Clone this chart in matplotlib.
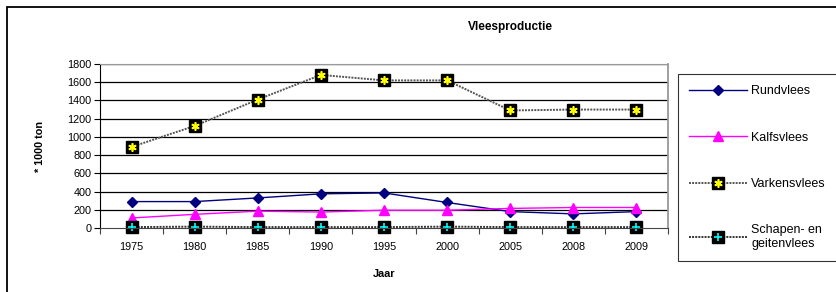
import numpy as np
import matplotlib.pyplot as plt
from matplotlib.lines import Line2D
from matplotlib.legend_handler import HandlerTuple
from matplotlib.patches import Rectangle

plt.rcParams['font.family'] = ['Liberation Sans', 'DejaVu Sans']

years = ['1975', '1980', '1985', '1990', '1995', '2000', '2005', '2008', '2009']
rundvlees = [290, 290, 330, 375, 385, 280, 180, 155, 180]
kalfsvlees = [110, 150, 185, 175, 195, 195, 215, 225, 225]
varkensvlees = [890, 1120, 1410, 1680, 1620, 1620, 1290, 1300, 1300]
schapen = [10, 15, 10, 10, 10, 15, 10, 10, 10]
labels = ['Rundvlees', 'Kalfsvlees', 'Varkensvlees', 'Schapen- en\ngeitenvlees']

W, H = 837, 292
fig = plt.figure(figsize=(W / 100, H / 100), dpi=100)
ax = fig.add_axes([100 / W, 1 - 228 / H, 568 / W, 164 / H])

x = np.arange(len(years))

# outer chart border (cut off on right and bottom)
fig.patches.append(Rectangle((7 / W, -0.5), 1.5, 1 - 7 / H + 0.5, transform=fig.transFigure,
                             fill=False, edgecolor='black', linewidth=1.3))

ax.set_ylim(0, 1800)
ax.set_xlim(-0.5, len(years) - 0.5)
ax.set_yticks(range(0, 1801, 200))
for v in range(200, 1801, 200):
    ax.axhline(v, color='black', linewidth=0.9, zorder=0)

dots = (0, (1, 0.6))
l1, = ax.plot(x, rundvlees, color='#000080', marker='D', markersize=5, linewidth=1, clip_on=False)
l2, = ax.plot(x, kalfsvlees, color='#FF00FF', marker='^', markersize=7, linewidth=1, clip_on=False)
l3, = ax.plot(x, varkensvlees, color='#555555', linestyle=dots, linewidth=1.4)
ax.plot(x, varkensvlees, linestyle='none', marker='s', markersize=8, color='black')
ax.plot(x, varkensvlees, linestyle='none', marker=(6, 2, 0), markersize=6,
        markeredgecolor='#FFFF00', markeredgewidth=1.2)
l4, = ax.plot(x, schapen, color='#333333', linestyle=dots, linewidth=1.4, clip_on=False)
ax.plot(x, schapen, linestyle='none', marker='s', markersize=8, color='black', clip_on=False)
ax.plot(x, schapen, linestyle='none', marker='+', markersize=6,
        markeredgecolor='#00FFFF', markeredgewidth=1.2, clip_on=False)

ax.set_xticks(np.arange(-0.5, len(years), 1))
ax.set_xticklabels([])
ax.set_xticks(x, minor=True)
ax.set_xticklabels(years, minor=True)
ax.tick_params(axis='x', which='major', direction='out', length=4, color='#444444')
ax.tick_params(axis='x', which='minor', length=0, pad=10, labelsize=7.8)
ax.tick_params(axis='y', direction='out', length=4, labelsize=7.8, pad=2)

ax.spines['left'].set_color('black')
ax.spines['bottom'].set_color('#444444')
ax.spines['top'].set_color('#999999')
ax.spines['right'].set_color('#999999')
ax.spines['right'].set_linewidth(1.3)

ax.set_ylabel('* 1000 ton', fontsize=7.8, fontweight='bold', labelpad=16)
ax.set_xlabel('Jaar', fontsize=7.8, fontweight='bold', labelpad=12)
fig.text(510 / W, 1 - 27 / H, 'Vleesproductie', ha='center', va='center',
         fontsize=8.5, fontweight='bold')

h1 = Line2D([], [], color='#000080', marker='D', markersize=5, linewidth=1)
h2 = Line2D([], [], color='#FF00FF', marker='^', markersize=7, linewidth=1)
h3a = Line2D([], [], color='#555555', linestyle=dots, linewidth=1.4,
             marker='s', markersize=8, markerfacecolor='black', markeredgecolor='black')
h3b = Line2D([], [], linestyle='none', marker=(6, 2, 0), markersize=6,
             markeredgecolor='#FFFF00', markeredgewidth=1.2)
h4a = Line2D([], [], color='#333333', linestyle=dots, linewidth=1.4,
             marker='s', markersize=8, markerfacecolor='black', markeredgecolor='black')
h4b = Line2D([], [], linestyle='none', marker='+', markersize=6,
             markeredgecolor='#00FFFF', markeredgewidth=1.2)

leg = fig.legend([h1, h2, (h3a, h3b), (h4a, h4b)], labels,
                 handler_map={tuple: HandlerTuple(ndivide=1, pad=0)},
                 loc='upper left', bbox_to_anchor=(678 / W, 1 - 74 / H, 0.25, 0),
                 mode='expand',
                 fontsize=9, frameon=True, fancybox=False, edgecolor='black',
                 handlelength=4.6, handletextpad=0.35, labelspacing=2.75,
                 borderpad=0.9, borderaxespad=0)
leg.get_frame().set_linewidth(0.8)

fig.savefig('out.png', dpi=100)
